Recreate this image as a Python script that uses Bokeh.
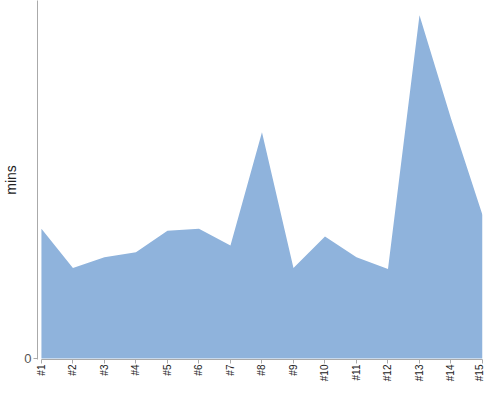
from bokeh.plotting import figure
from bokeh.models import Range1d, FixedTicker
from bokeh.embed import file_html
from bokeh.resources import INLINE
import math

labels = ["#1", "#2", "#3", "#4", "#5", "#6", "#7", "#8", "#9", "#10", "#11", "#12", "#13", "#14", "#15"]
mins = [13.2, 9.2, 10.3, 10.8, 13.0, 13.2, 11.5, 23.0, 9.2, 12.4, 10.3, 9.1, 34.9, 24.4, 14.6]

xs = list(range(len(labels)))

p = figure(width=484, height=384, output_backend="svg", toolbar_location=None,
           x_range=Range1d(-0.125, len(labels) - 1), y_range=Range1d(-0.1, 36.4),
           min_border_left=0, min_border_right=2, min_border_top=0, min_border_bottom=0)
p.outline_line_color = None
p.xgrid.visible = False
p.ygrid.visible = False
p.background_fill_color = "white"

p.varea(x=xs, y1=[0] * len(xs), y2=mins, fill_color="#8fb3dc", fill_alpha=1.0)

FONT = "Liberation Sans"

xa = p.xaxis[0]
xa.ticker = FixedTicker(ticks=xs)
xa.major_label_overrides = {i: l for i, l in enumerate(labels)}
xa.major_label_orientation = math.pi / 2
xa.bounds = (0, len(labels) - 1)
xa.axis_line_color = "#aaaaaa"
xa.major_tick_line_color = "#aaaaaa"
xa.major_tick_out = 4
xa.major_tick_in = 0
xa.minor_tick_line_color = None
xa.major_label_text_font = FONT
xa.major_label_text_font_size = "10px"
xa.major_label_text_color = "#222222"
xa.major_label_standoff = 1
xa.axis_label_standoff = 0
xa.axis_label_text_font_size = "0px"

ya = p.yaxis[0]
ya.ticker = FixedTicker(ticks=[0])
ya.axis_line_color = "#aaaaaa"
ya.major_tick_line_color = "#aaaaaa"
ya.major_tick_out = 4
ya.major_tick_in = 0
ya.minor_tick_line_color = None
ya.major_label_text_font = FONT
ya.major_label_text_font_size = "13px"
ya.major_label_text_color = "#555555"
ya.major_label_standoff = 2
ya.axis_label = "mins"
ya.axis_label_text_font = FONT
ya.axis_label_text_font_size = "14px"
ya.axis_label_text_font_style = "normal"
ya.axis_label_text_color = "#222222"
ya.axis_label_standoff = 2

open("out.html", "w").write(file_html(p, INLINE))
